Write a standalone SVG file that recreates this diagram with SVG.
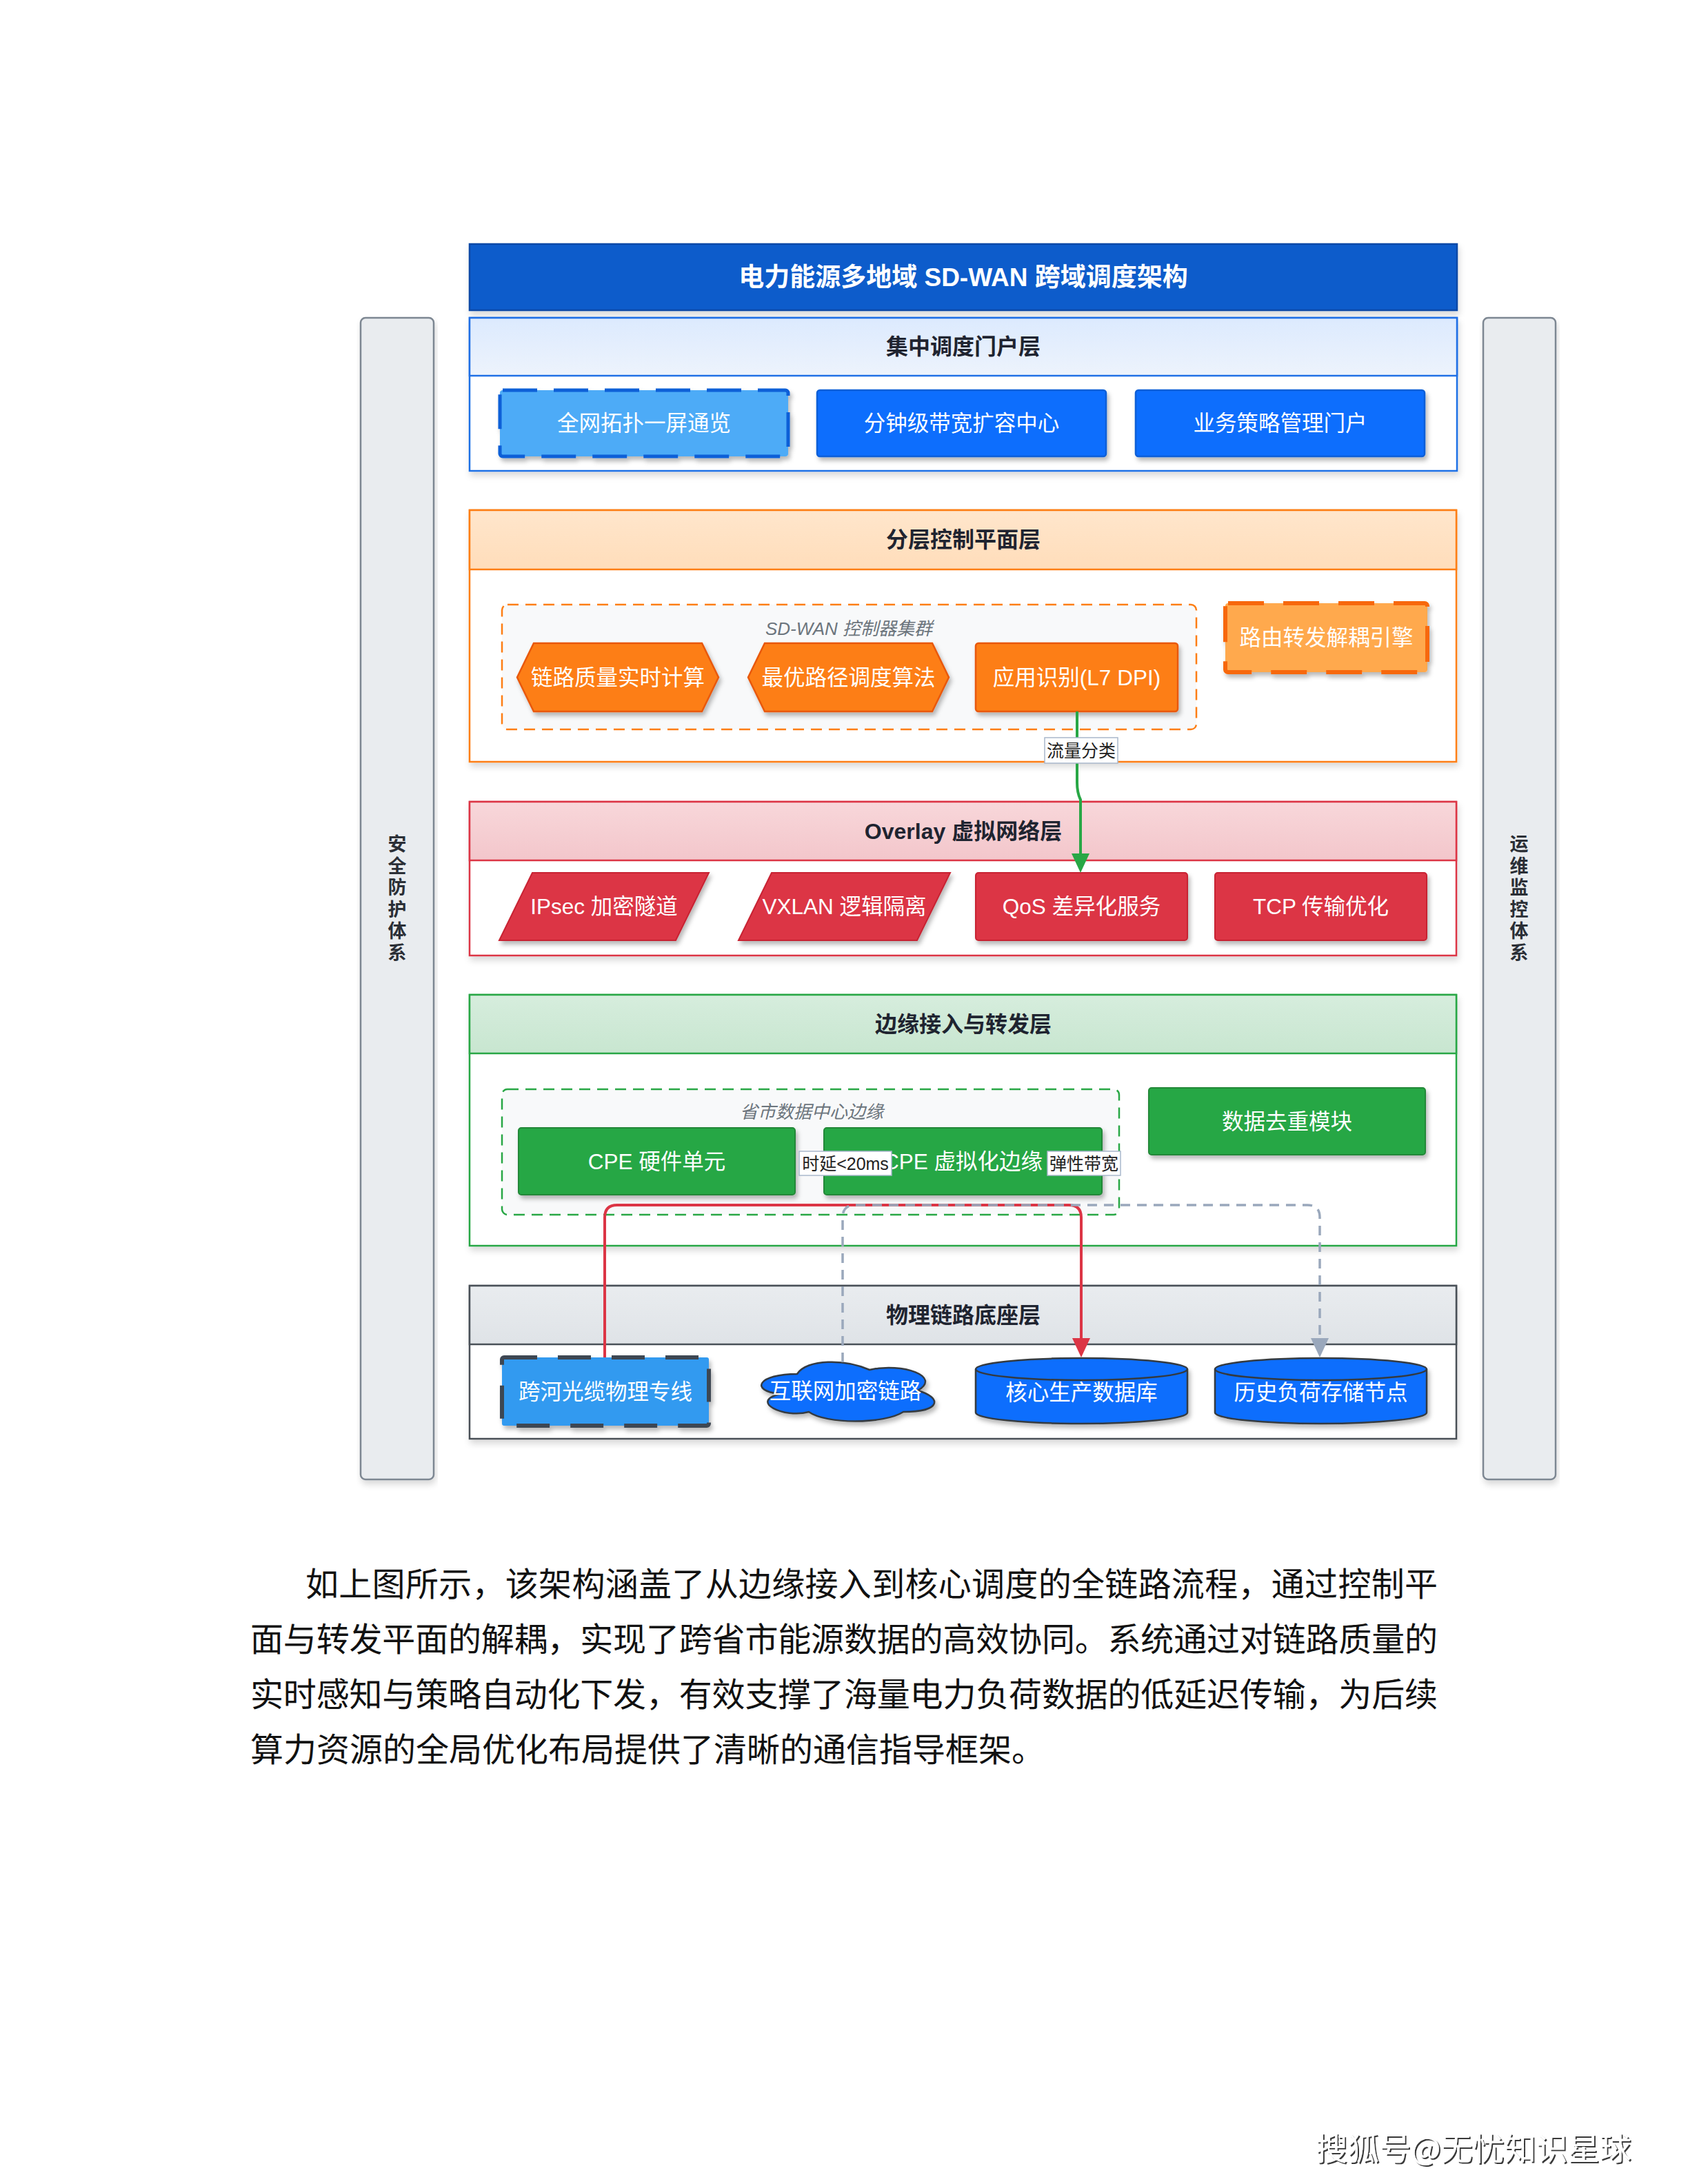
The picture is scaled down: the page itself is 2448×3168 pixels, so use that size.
<svg xmlns="http://www.w3.org/2000/svg" width="2448" height="3168" viewBox="0 0 2448 3168">
<defs>
<style>
.f{font-family:'Liberation Sans','Noto Sans CJK SC',sans-serif}
.nt{fill:#fff;font-size:31.5px;text-anchor:middle;dominant-baseline:central}
.ht{fill:#1f2430;font-size:32px;font-weight:bold;text-anchor:middle;dominant-baseline:central}
.ct{fill:#6c757d;font-size:26px;font-style:italic;text-anchor:middle;dominant-baseline:central}
.vt{fill:#2b2f36;font-size:27px;font-weight:bold;text-anchor:middle;dominant-baseline:central}
.lt{fill:#222;font-size:25px;text-anchor:middle;dominant-baseline:central}
.lb{fill:#fff;stroke:#a9b8cc;stroke-width:1.5}
.body{fill:#fff;stroke-width:2.5}
.pt{font-family:'Liberation Serif','Noto Sans CJK SC',serif;font-size:48px;fill:#111}
</style>
<linearGradient id="gP" x1="0" y1="0" x2="0" y2="1"><stop offset="0" stop-color="#DCEAFE"/><stop offset="1" stop-color="#EDF3FC"/></linearGradient>
<linearGradient id="gC" x1="0" y1="0" x2="0" y2="1"><stop offset="0" stop-color="#FFE6CC"/><stop offset="1" stop-color="#FFDDBA"/></linearGradient>
<linearGradient id="gO" x1="0" y1="0" x2="0" y2="1"><stop offset="0" stop-color="#F8D7DA"/><stop offset="1" stop-color="#F3C6CB"/></linearGradient>
<linearGradient id="gE" x1="0" y1="0" x2="0" y2="1"><stop offset="0" stop-color="#D6EDDD"/><stop offset="1" stop-color="#C8E6D0"/></linearGradient>
<linearGradient id="gH" x1="0" y1="0" x2="0" y2="1"><stop offset="0" stop-color="#E9ECEF"/><stop offset="1" stop-color="#DFE3E7"/></linearGradient>
<filter id="sh" x="-10%" y="-15%" width="125%" height="150%"><feDropShadow dx="3" dy="5" stdDeviation="3" flood-color="#000" flood-opacity="0.28"/></filter>
<filter id="shL" x="-5%" y="-5%" width="110%" height="115%"><feDropShadow dx="2" dy="6" stdDeviation="5" flood-color="#000" flood-opacity="0.15"/></filter>
<filter id="shT" x="-5%" y="-20%" width="110%" height="160%"><feDropShadow dx="2" dy="2" stdDeviation="0.6" flood-color="#222" flood-opacity="0.9"/></filter>
<marker id="aG" viewBox="0 0 28 26" refX="0" refY="13" markerWidth="28" markerHeight="26" markerUnits="userSpaceOnUse" orient="auto"><path d="M0,0 L28,13 L0,26 Z" fill="#28A745"/></marker>
<marker id="aR" viewBox="0 0 28 26" refX="0" refY="13" markerWidth="28" markerHeight="26" markerUnits="userSpaceOnUse" orient="auto"><path d="M0,0 L28,13 L0,26 Z" fill="#DC3545"/></marker>
<marker id="aS" viewBox="0 0 28 26" refX="0" refY="13" markerWidth="28" markerHeight="26" markerUnits="userSpaceOnUse" orient="auto"><path d="M0,0 L28,13 L0,26 Z" fill="#9AA8BC"/></marker>
</defs>
<rect width="2448" height="3168" fill="#fff"/>

<g id="side-security" class="f">
<rect x="523" y="461" width="106" height="1685" rx="7" fill="#E9ECEF" stroke="#7D8792" stroke-width="2.5" filter="url(#shL)"/>
<text class="vt"><tspan x="576" y="1225">安</tspan><tspan x="576" y="1256.6">全</tspan><tspan x="576" y="1288.2">防</tspan><tspan x="576" y="1319.8">护</tspan><tspan x="576" y="1351.4">体</tspan><tspan x="576" y="1383">系</tspan></text>
</g>
<g id="side-ops" class="f">
<rect x="2151" y="461" width="105" height="1685" rx="7" fill="#E9ECEF" stroke="#7D8792" stroke-width="2.5" filter="url(#shL)"/>
<text class="vt"><tspan x="2203" y="1225">运</tspan><tspan x="2203" y="1256.6">维</tspan><tspan x="2203" y="1288.2">监</tspan><tspan x="2203" y="1319.8">控</tspan><tspan x="2203" y="1351.4">体</tspan><tspan x="2203" y="1383">系</tspan></text>
</g>

<g id="title" class="f">
<rect x="681" y="354" width="1432" height="96" fill="#0B5CCB" stroke="#0848A6" stroke-width="2.5" filter="url(#shL)"/>
<text x="1397" y="402" fill="#fff" font-size="37" font-weight="bold" text-anchor="middle" dominant-baseline="central">电力能源多地域 SD-WAN 跨域调度架构</text>
</g>

<g id="layer-portal" class="f">
<rect class="body" x="681" y="461" width="1432" height="222" stroke="#1F6FE5" filter="url(#shL)"/>
<rect x="681" y="461" width="1432" height="84" fill="url(#gP)" stroke="#1F6FE5" stroke-width="2.5"/>
<text class="ht" x="1397" y="503">集中调度门户层</text>
</g>
<g id="node-topology" class="f">
<rect x="725" y="566" width="418" height="96" rx="4" fill="#4DABF7" stroke="#0B5ED7" stroke-width="5" stroke-dasharray="50 24" filter="url(#sh)"/>
<text class="nt" x="934" y="614">全网拓扑一屏通览</text>
</g>
<g id="node-bandwidth" class="f">
<rect x="1185" y="566" width="419" height="96" rx="4" fill="#0D6EFD" stroke="#0B5ED7" stroke-width="2.5" filter="url(#sh)"/>
<text class="nt" x="1394.5" y="614">分钟级带宽扩容中心</text>
</g>
<g id="node-policy" class="f">
<rect x="1647" y="566" width="419" height="96" rx="4" fill="#0D6EFD" stroke="#0B5ED7" stroke-width="2.5" filter="url(#sh)"/>
<text class="nt" x="1856.5" y="614">业务策略管理门户</text>
</g>

<g id="layer-control" class="f">
<rect class="body" x="681" y="740" width="1431" height="365" stroke="#FD7E14" filter="url(#shL)"/>
<rect x="681" y="740" width="1431" height="86" fill="url(#gC)" stroke="#FD7E14" stroke-width="2.5"/>
<text class="ht" x="1397" y="783">分层控制平面层</text>
</g>
<g id="cluster-controller" class="f">
<rect x="728" y="877" width="1007" height="181" rx="8" fill="#F8F9FA" stroke="#FD7E14" stroke-width="2.5" stroke-dasharray="16 10"/>
<text class="ct" x="1231" y="912">SD-WAN 控制器集群</text>
</g>
<g id="node-linkquality" class="f">
<path d="M750,982.5 L774,933 H1018 L1042,982.5 L1018,1032 H774 Z" fill="#FD7E14" stroke="#E8590C" stroke-width="2.5" filter="url(#sh)"/>
<text class="nt" x="896" y="982.5">链路质量实时计算</text>
</g>
<g id="node-optimalpath" class="f">
<path d="M1085,982.5 L1109,933 H1352 L1376,982.5 L1352,1032 H1109 Z" fill="#FD7E14" stroke="#E8590C" stroke-width="2.5" filter="url(#sh)"/>
<text class="nt" x="1230.5" y="982.5">最优路径调度算法</text>
</g>
<g id="node-dpi" class="f">
<rect x="1415" y="933" width="293" height="99" rx="4" fill="#FD7E14" stroke="#E8590C" stroke-width="2.5" filter="url(#sh)"/>
<text class="nt" x="1561.5" y="982.5">应用识别(L7 DPI)</text>
</g>
<g id="node-decouple" class="f">
<rect x="1777" y="875" width="293" height="100" rx="4" fill="#FFA94D" stroke="#F76707" stroke-width="6" stroke-dasharray="52 28" filter="url(#sh)"/>
<text class="nt" x="1923.5" y="925">路由转发解耦引擎</text>
</g>

<g id="layer-overlay" class="f">
<rect class="body" x="681" y="1163" width="1431" height="223" stroke="#DC3545" filter="url(#shL)"/>
<rect x="681" y="1163" width="1431" height="85" fill="url(#gO)" stroke="#DC3545" stroke-width="2.5"/>
<text class="ht" x="1397" y="1205.5">Overlay 虚拟网络层</text>
</g>
<g id="node-ipsec" class="f">
<path d="M772,1266 H1028 L980,1364 H724 Z" fill="#DC3545" stroke="#C82333" stroke-width="2" filter="url(#sh)"/>
<text class="nt" x="876" y="1315">IPsec 加密隧道</text>
</g>
<g id="node-vxlan" class="f">
<path d="M1119,1266 H1378 L1330,1364 H1071 Z" fill="#DC3545" stroke="#C82333" stroke-width="2" filter="url(#sh)"/>
<text class="nt" x="1224.5" y="1315">VXLAN 逻辑隔离</text>
</g>
<g id="node-qos" class="f">
<rect x="1415" y="1266" width="307" height="98" rx="4" fill="#DC3545" stroke="#C82333" stroke-width="2" filter="url(#sh)"/>
<text class="nt" x="1568.5" y="1315">QoS 差异化服务</text>
</g>
<g id="node-tcp" class="f">
<rect x="1762" y="1266" width="307" height="98" rx="4" fill="#DC3545" stroke="#C82333" stroke-width="2" filter="url(#sh)"/>
<text class="nt" x="1915.5" y="1315">TCP 传输优化</text>
</g>

<g id="layer-edge" class="f">
<rect class="body" x="681" y="1443" width="1431" height="364" stroke="#28A745" filter="url(#shL)"/>
<rect x="681" y="1443" width="1431" height="85" fill="url(#gE)" stroke="#28A745" stroke-width="2.5"/>
<text class="ht" x="1397" y="1485.5">边缘接入与转发层</text>
</g>
<g id="cluster-edge" class="f">
<rect x="728" y="1580" width="895" height="182" rx="8" fill="#F8F9FA" stroke="#28A745" stroke-width="2.5" stroke-dasharray="16 10"/>
<text class="ct" x="1177" y="1613">省市数据中心边缘</text>
</g>
<g id="node-cpe-hw" class="f">
<rect x="752" y="1636" width="401" height="97" rx="4" fill="#28A745" stroke="#218838" stroke-width="2" filter="url(#sh)"/>
<text class="nt" x="952.5" y="1684.5">CPE 硬件单元</text>
</g>
<g id="node-cpe-virt" class="f">
<rect x="1195" y="1636" width="403" height="97" rx="4" fill="#28A745" stroke="#218838" stroke-width="2" filter="url(#sh)"/>
<text class="nt" x="1396.5" y="1684.5">CPE 虚拟化边缘</text>
</g>
<g id="node-dedup" class="f">
<rect x="1666" y="1578" width="401" height="97" rx="4" fill="#28A745" stroke="#218838" stroke-width="2" filter="url(#sh)"/>
<text class="nt" x="1866.5" y="1626.5">数据去重模块</text>
</g>

<g id="layer-physical" class="f">
<rect class="body" x="681" y="1865" width="1431" height="222" stroke="#495057" filter="url(#shL)"/>
<rect x="681" y="1865" width="1431" height="85" fill="url(#gH)" stroke="#495057" stroke-width="2.5"/>
<text class="ht" x="1397" y="1907.5">物理链路底座层</text>
</g>
<g id="node-fiber" class="f">
<rect x="728" y="1969" width="300" height="99" rx="3" fill="#339AF0" stroke="#3D4653" stroke-width="6" stroke-dasharray="48 30" filter="url(#sh)"/>
<text class="nt" x="878" y="2018.5">跨河光缆物理专线</text>
</g>
<g id="node-internet" class="f">
<path d="M1156,1993 C1100,1993 1086,2017 1131,2022 C1086,2033 1137,2058 1173,2048 C1198,2066 1282,2066 1310,2048 C1366,2048 1366,2027 1331,2017 C1366,1997 1310,1976 1261,1987 C1226,1971 1170,1971 1156,1993 Z" fill="#0D6EFD" stroke="#343A40" stroke-width="2.5" filter="url(#sh)"/>
<text class="nt" x="1226" y="2018">互联网加密链路</text>
</g>
<g id="node-coredb" class="f">
<path d="M1415,1986 A153.5,16 0 0 1 1722,1986 V2049 A153.5,16 0 0 1 1415,2049 Z" fill="#0D6EFD" stroke="#343A40" stroke-width="2.5" filter="url(#sh)"/>
<path d="M1415,1986 A153.5,16 0 0 0 1722,1986" fill="none" stroke="#343A40" stroke-width="2.5"/>
<text class="nt" x="1568.5" y="2020">核心生产数据库</text>
</g>
<g id="node-history" class="f">
<path d="M1762,1986 A153.5,16 0 0 1 2069,1986 V2049 A153.5,16 0 0 1 1762,2049 Z" fill="#0D6EFD" stroke="#343A40" stroke-width="2.5" filter="url(#sh)"/>
<path d="M1762,1986 A153.5,16 0 0 0 2069,1986" fill="none" stroke="#343A40" stroke-width="2.5"/>
<text class="nt" x="1915.5" y="2020">历史负荷存储节点</text>
</g>

<g id="connectors" class="f" fill="none">
<path d="M1562,1032 V1135 Q1562,1150 1567,1160 V1238" stroke="#28A745" stroke-width="4" marker-end="url(#aG)"/>
<path d="M877,1969 V1766 Q877,1748 895,1748 H1550 Q1568,1748 1568,1766 V1941" stroke="#DC3545" stroke-width="4" marker-end="url(#aR)"/>
<path d="M1222,1976 V1766 Q1222,1748 1240,1748 H1896 Q1914,1748 1914,1766 V1941" stroke="#9AA8BC" stroke-width="3.5" stroke-dasharray="14 10" marker-end="url(#aS)"/>
<rect class="lb" x="1515" y="1070" width="106" height="37"/>
<text class="lt" x="1568" y="1088.5">流量分类</text>
<rect class="lb" x="1159" y="1670" width="134" height="35"/>
<text class="lt" x="1226" y="1687.5">时延&lt;20ms</text>
<rect class="lb" x="1519" y="1670" width="106" height="35"/>
<text class="lt" x="1572" y="1687.5">弹性带宽</text>
</g>

<g id="paragraph">
<text class="pt" x="443" y="2315" textLength="1642" lengthAdjust="spacing">如上图所示，该架构涵盖了从边缘接入到核心调度的全链路流程，通过控制平</text>
<text class="pt" x="363" y="2395" textLength="1722" lengthAdjust="spacing">面与转发平面的解耦，实现了跨省市能源数据的高效协同。系统通过对链路质量的</text>
<text class="pt" x="363" y="2475" textLength="1722" lengthAdjust="spacing">实时感知与策略自动化下发，有效支撑了海量电力负荷数据的低延迟传输，为后续</text>
<text class="pt" x="363" y="2555">算力资源的全局优化布局提供了清晰的通信指导框架。</text>
</g>

<g id="footer">
<text x="1908" y="3133" font-family="'Noto Sans CJK SC','Liberation Sans',sans-serif" font-size="46" fill="#fff" filter="url(#shT)">搜狐号@无忧知识星球</text>
</g>
</svg>
